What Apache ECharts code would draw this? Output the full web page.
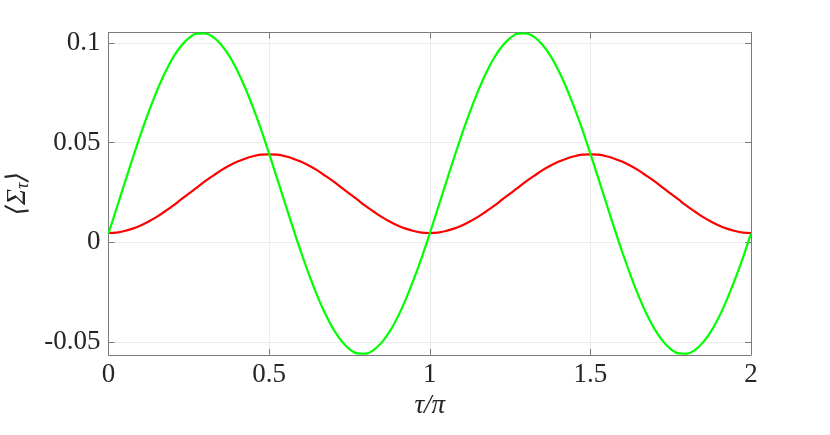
<!DOCTYPE html>
<html>
<head>
<meta charset="utf-8">
<script src="https://cdn.jsdelivr.net/npm/echarts@6/dist/echarts.min.js"></script>
<style>
  html, body { margin: 0; padding: 0; background: #fff; }
  #chart { width: 830px; height: 435px; }
</style>
</head>
<body>
<div id="chart"></div>
<script>
const tau = [
  0, 0.025, 0.05, 0.075, 0.1, 0.125, 0.15, 0.175, 0.2, 0.225,
  0.25, 0.275, 0.3, 0.325, 0.35, 0.375, 0.4, 0.425, 0.45, 0.475,
  0.5, 0.525, 0.55, 0.575, 0.6, 0.625, 0.65, 0.675, 0.7, 0.725,
  0.75, 0.775, 0.8, 0.825, 0.85, 0.875, 0.9, 0.925, 0.95, 0.975,
  1, 1.025, 1.05, 1.075, 1.1, 1.125, 1.15, 1.175, 1.2, 1.225,
  1.25, 1.275, 1.3, 1.325, 1.35, 1.375, 1.4, 1.425, 1.45, 1.475,
  1.5, 1.525, 1.55, 1.575, 1.6, 1.625, 1.65, 1.675, 1.7, 1.725,
  1.75, 1.775, 1.8, 1.825, 1.85, 1.875, 1.9, 1.925, 1.95, 1.975,
  2
]

const greenValues = [
  0.0045, 0.0170, 0.0296, 0.0421, 0.0542, 0.0655, 0.0758, 0.0849, 0.0925, 0.0984,
  0.1025, 0.1047, 0.1048, 0.1031, 0.0993, 0.0938, 0.0865, 0.0777, 0.0676, 0.0566,
  0.0445, 0.0320, 0.0194, 0.0069, -0.0052, -0.0165, -0.0268, -0.0359, -0.0435, -0.0494,
  -0.0535, -0.0557, -0.0558, -0.0541, -0.0503, -0.0448, -0.0375, -0.0287, -0.0186, -0.0076,
  0.0045, 0.0170, 0.0296, 0.0421, 0.0542, 0.0655, 0.0758, 0.0849, 0.0925, 0.0984,
  0.1025, 0.1047, 0.1048, 0.1031, 0.0993, 0.0938, 0.0865, 0.0777, 0.0676, 0.0566,
  0.0445, 0.0320, 0.0194, 0.0069, -0.0052, -0.0165, -0.0268, -0.0359, -0.0435, -0.0494,
  -0.0535, -0.0557, -0.0558, -0.0541, -0.0503, -0.0448, -0.0375, -0.0287, -0.0186, -0.0076,
  0.0045
]

const redValues = [
  0.0047, 0.0049, 0.0057, 0.0069, 0.0085, 0.0105, 0.0128, 0.0155, 0.0183, 0.0214,
  0.0245, 0.0275, 0.0306, 0.0334, 0.0361, 0.0384, 0.0404, 0.0420, 0.0432, 0.0440,
  0.0442, 0.0440, 0.0432, 0.0420, 0.0404, 0.0384, 0.0361, 0.0334, 0.0306, 0.0275,
  0.0245, 0.0214, 0.0183, 0.0155, 0.0128, 0.0105, 0.0085, 0.0069, 0.0057, 0.0049,
  0.0047, 0.0049, 0.0057, 0.0069, 0.0085, 0.0105, 0.0128, 0.0155, 0.0183, 0.0214,
  0.0245, 0.0275, 0.0306, 0.0334, 0.0361, 0.0384, 0.0404, 0.0420, 0.0432, 0.0440,
  0.0442, 0.0440, 0.0432, 0.0420, 0.0404, 0.0384, 0.0361, 0.0334, 0.0306, 0.0275,
  0.0245, 0.0214, 0.0183, 0.0155, 0.0128, 0.0105, 0.0085, 0.0069, 0.0057, 0.0049,
  0.0047
]

const yTicks = [-0.05, 0, 0.05, 0.1]

const fontFamily = '"Liberation Serif", "DejaVu Serif", serif'
const boxColor = '#7a7a7a'
const gridColor = '#ececec'

const chart = echarts.init(document.getElementById('chart'), null, { renderer: 'canvas' })

const pairs = values => tau.map((t, i) => [t, values[i]])

const frameLine = { show: true, onZero: false, lineStyle: { color: boxColor, width: 1 } }
const frameTick = { inside: true, length: 6, lineStyle: { color: boxColor } }

chart.setOption({
  animation: false,
  backgroundColor: '#fff',
  grid: {
    left: 108.5,
    right: 79,
    top: 32.5,
    bottom: 80,
    outerBoundsMode: 'none',
    containLabel: false
  },
  xAxis: [
    {
      type: 'value',
      min: 0,
      max: 2,
      interval: 0.5,
      name: '\u03c4/\u03c0',
      nameLocation: 'middle',
      nameGap: 33,
      nameTextStyle: { fontFamily: fontFamily, fontSize: 27, fontStyle: 'italic', color: '#262626' },
      axisLine: frameLine,
      axisTick: frameTick,
      axisLabel: {
        margin: 6,
        fontFamily: fontFamily,
        fontSize: 27,
        color: '#262626'
      },
      splitLine: { show: true, lineStyle: { color: gridColor, width: 1 } }
    },
    {
      type: 'value',
      position: 'top',
      min: 0,
      max: 2,
      interval: 0.5,
      axisLine: frameLine,
      axisTick: frameTick,
      axisLabel: { show: false },
      splitLine: { show: false }
    }
  ],
  yAxis: [
    {
      type: 'value',
      min: -0.0565,
      max: 0.1053,
      splitNumber: 4,
      name: '\u27e8\u03a3{sub|\u03c4}\u27e9',
      nameLocation: 'middle',
      nameRotate: 90,
      nameGap: 76,
      nameTextStyle: {
        fontFamily: fontFamily,
        fontSize: 27,
        fontStyle: 'italic',
        color: '#262626',
        rich: {
          sub: { fontFamily: fontFamily, fontSize: 18, fontStyle: 'italic', color: '#262626', verticalAlign: 'bottom', padding: [12, 0, 0, 0] }
        }
      },
      axisLine: frameLine,
      axisTick: Object.assign({}, frameTick, { customValues: yTicks }),
      axisLabel: {
        margin: 8,
        fontFamily: fontFamily,
        fontSize: 27,
        color: '#262626',
        customValues: yTicks,
        formatter: v => String(Math.round(v * 1000) / 1000)
      },
      splitLine: { show: true, lineStyle: { color: gridColor, width: 1 } }
    },
    {
      type: 'value',
      position: 'right',
      min: -0.0565,
      max: 0.1053,
      axisLine: frameLine,
      axisTick: Object.assign({}, frameTick, { customValues: yTicks }),
      axisLabel: { show: false },
      splitLine: { show: false }
    }
  ],
  series: [
    {
      type: 'line',
      data: pairs(redValues),
      smooth: 0.4,
      showSymbol: false,
      lineStyle: { color: '#ff0000', width: 2.2 },
      z: 3
    },
    {
      type: 'line',
      data: pairs(greenValues),
      smooth: 0.4,
      showSymbol: false,
      lineStyle: { color: '#00ff00', width: 2.2 },
      z: 4
    }
  ]
})
</script>
</body>
</html>
